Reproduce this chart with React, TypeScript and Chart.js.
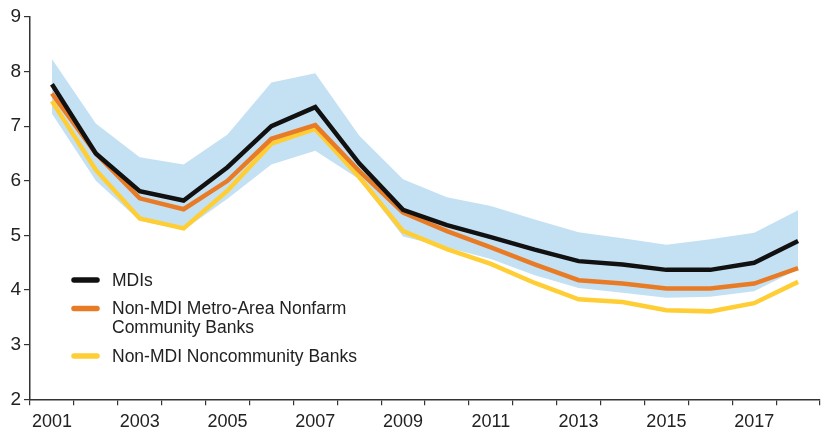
import React, { useEffect, useRef } from "react";
import { Chart, registerables } from "chart.js";

Chart.register(...registerables);

const years = ["2001","2002","2003","2004","2005","2006","2007","2008","2009","2010","2011","2012","2013","2014","2015","2016","2017","2018"];
const mdis = [7.77, 6.5, 5.81, 5.64, 6.25, 7.0, 7.35, 6.32, 5.47, 5.19, 4.97, 4.74, 4.53, 4.47, 4.37, 4.37, 4.5, 4.9];
const metroNonfarm = [7.6, 6.5, 5.68, 5.48, 6.0, 6.77, 7.02, 6.18, 5.42, 5.08, 4.78, 4.47, 4.18, 4.12, 4.03, 4.03, 4.12, 4.4];
const noncommunity = [7.46, 6.2, 5.31, 5.13, 5.82, 6.68, 6.95, 6.07, 5.08, 4.75, 4.48, 4.13, 3.83, 3.78, 3.63, 3.61, 3.76, 4.15];
const bandUpper = [8.23, 7.05, 6.43, 6.3, 6.85, 7.8, 7.97, 6.83, 6.03, 5.7, 5.54, 5.29, 5.06, 4.95, 4.83, 4.93, 5.05, 5.46];
const bandLower = [7.23, 6.0, 5.27, 5.1, 5.67, 6.3, 6.55, 6.03, 4.98, 4.78, 4.57, 4.27, 4.04, 3.95, 3.86, 3.88, 3.98, 4.38];

const legendItems = [
  { color: "#111111", lines: ["MDIs"] },
  { color: "#E87B25", lines: ["Non-MDI Metro-Area Nonfarm", "Community Banks"] },
  { color: "#FFCD34", lines: ["Non-MDI Noncommunity Banks"] },
];

const FONT = "'Liberation Sans', Arial, sans-serif";

const legendPlugin = {
  id: "customLegend",
  afterDraw(chart: any) {
    const ctx = chart.ctx;
    ctx.save();
    ctx.font = `17.5px ${FONT}`;
    ctx.textBaseline = "middle";
    ctx.fillStyle = "#222";
    const ys = [280, 308.5, 356];
    legendItems.forEach((it, i) => {
      const y = ys[i];
      ctx.strokeStyle = it.color;
      ctx.lineWidth = 5.5;
      ctx.lineCap = "round";
      ctx.beginPath();
      ctx.moveTo(74, y);
      ctx.lineTo(97, y);
      ctx.stroke();
      it.lines.forEach((t, j) => {
        ctx.fillText(t, 112, y + 1 + j * 18.5);
      });
    });
    ctx.restore();
  },
};

export default function App() {
  const ref = useRef<HTMLCanvasElement | null>(null);
  useEffect(() => {
    if (!ref.current) return;
    const lineDs = (label: string, data: number[], color: string) => ({
      label,
      data,
      borderColor: color,
      backgroundColor: color,
      borderWidth: 4.5,
      pointRadius: 0,
      tension: 0,
      fill: false,
    });
    const chart = new Chart(ref.current, {
      type: "line",
      data: {
        labels: years,
        datasets: [
          lineDs("MDIs", mdis, "#111111"),
          lineDs("Non-MDI Metro-Area Nonfarm Community Banks", metroNonfarm, "#E87B25"),
          lineDs("Non-MDI Noncommunity Banks", noncommunity, "#FFCD34"),
          {
            label: "upper",
            data: bandUpper,
            borderWidth: 0,
            borderColor: "rgba(0,0,0,0)",
            backgroundColor: "#C4E1F4",
            pointRadius: 0,
            fill: "+1",
          },
          {
            label: "lower",
            data: bandLower,
            borderWidth: 0,
            borderColor: "rgba(0,0,0,0)",
            backgroundColor: "#C4E1F4",
            pointRadius: 0,
            fill: false,
          },
        ],
      },
      options: {
        animation: false,
        responsive: true,
        maintainAspectRatio: false,
        layout: { padding: { top: 17, right: 2, left: 0, bottom: 0 } },
        plugins: { legend: { display: false }, tooltip: { enabled: false } },
        scales: {
          x: {
            type: "category",
            offset: true,
            grid: { offset: true, drawOnChartArea: false, drawTicks: true, tickLength: 6, color: "#333", lineWidth: 1.2 },
            border: { display: true, color: "#333", width: 1.5 },
            ticks: {
              autoSkip: false,
              maxRotation: 0,
              padding: 6,
              color: "#222",
              font: { family: FONT, size: 18 },
              callback: function (_v: any, i: number) {
                return i % 2 === 0 ? years[i] : "";
              },
            },
            afterFit: (s: any) => { s.height = 30.7; },
          },
          y: {
            min: 2,
            max: 9,
            grid: { drawOnChartArea: false, drawTicks: true, tickLength: 6, color: "#333", lineWidth: 1.2 },
            border: { display: true, color: "#333", width: 1.5 },
            ticks: {
              stepSize: 1,
              padding: 3,
              color: "#222",
              font: { family: FONT, size: 19 },
            },
            afterFit: (s: any) => { s.width = 30; },
          },
        },
      },
      plugins: [legendPlugin],
    });
    return () => chart.destroy();
  }, []);
  return (
    <div style={{ position: "fixed", left: 0, top: 0, width: 822, height: 430, background: "#fff" }}>
      <canvas ref={ref} />
    </div>
  );
}
